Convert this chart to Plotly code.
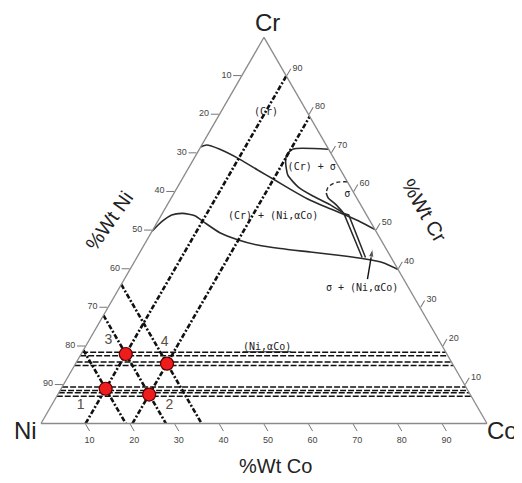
import plotly.graph_objects as go

# ---------------- data (wt% Cr, wt% Co ; Ni = balance) ----------------
upper_cr = [71.6, 72.1, 71.0, 68.4, 65.3, 63.3, 60.7, 58.2, 56.1, 54.2, 52.5, 50.2]
upper_co = [0.0, 1.1, 4.6, 10.4, 16.4, 20.4, 25.5, 30.6, 35.7, 40.7, 44.9, 49.8]

lower_cr = [49.8, 52.2, 54.0, 54.4, 53.8, 52.0, 49.4, 47.6, 46.2, 45.3, 44.4, 43.5, 42.6, 41.7, 39.9]
lower_co = [0.0, 0.9, 2.3, 4.6, 7.6, 10.7, 15.4, 20.3, 25.5, 31.0, 38.2, 45.4, 51.4, 55.7, 60.1]

cr_sigma_cr = [71.0, 71.1, 69.7, 67.7, 64.3, 61.2, 58.9, 56.6, 54.4]
cr_sigma_co = [29.0, 21.0, 20.3, 21.0, 23.2, 27.1, 31.5, 36.6, 40.7]

sigma_dash_cr = [62.6, 62.4, 61.2, 59.7]
sigma_dash_co = [37.4, 35.0, 33.8, 34.1]
sigma_solid_cr = [59.7, 58.4, 56.6, 54.4]
sigma_solid_co = [34.1, 35.2, 37.9, 40.7]

tie_cr = [43.0, 54.4, 54.0, 43.0]
tie_co = [50.5, 40.7, 42.0, 51.25]

arrow_cr = [37.4, 45.3]
arrow_co = [54.5, 51.7]

# sample compositions
sample_ids = ["1", "2", "3", "4"]
sample_cr = [9.0, 7.5, 18.0, 15.5]
sample_co = [10.0, 20.5, 10.0, 20.5]
sample_ni = [81.0, 72.0, 72.0, 64.0]

# iso-composition guide lines
guide_co = [10.0, 20.5]
guide_ni = [81.0, 72.0, 64.0]
guide_cr = [18.0, 15.5, 9.0, 7.5]

# phase labels
phase_text = ["(Cr)", "(Cr) + σ", "σ", "(Cr) + (Ni,αCo)", "σ + (Ni,αCo)"]
phase_cr = [80.5, 66.4, 59.3, 53.5, 35.0]
phase_co = [10.2, 27.5, 39.0, 25.3, 54.5]

tick_vals = [10, 20, 30, 40, 50, 60, 70, 80, 90]
tick_text = ["90", "80", "70", "60", "50", "40", "30", "20", "10"]

W, H = 522, 483
OFF = 8  # page body margin of the html page


def ni_of(cr, co):
    return [100 - a - c for a, c in zip(cr, co)]


def px(x):
    return (x - OFF) / W


def py(y):
    return 1 - (y - OFF) / H


fig = go.Figure()

solid = dict(color="#2a2a2a", width=1.6)

for cr, co in [(upper_cr, upper_co), (lower_cr, lower_co), (cr_sigma_cr, cr_sigma_co),
               (sigma_solid_cr, sigma_solid_co)]:
    fig.add_trace(go.Scatterternary(a=cr, b=ni_of(cr, co), c=co, mode="lines",
                                    line=dict(shape="spline", smoothing=0.6, **solid),
                                    hoverinfo="skip", showlegend=False))
fig.add_trace(go.Scatterternary(a=tie_cr, b=ni_of(tie_cr, tie_co), c=tie_co, mode="lines",
                                line=dict(color="#2a2a2a", width=1.5),
                                hoverinfo="skip", showlegend=False))

fig.add_trace(go.Scatterternary(a=sigma_dash_cr, b=ni_of(sigma_dash_cr, sigma_dash_co), c=sigma_dash_co,
                                mode="lines", line=dict(color="#2a2a2a", width=1.4, dash="4px,3px", shape="spline"),
                                hoverinfo="skip", showlegend=False))

# arrow
fig.add_trace(go.Scatterternary(a=arrow_cr, b=ni_of(arrow_cr, arrow_co), c=arrow_co,
                                mode="lines+markers", line=dict(color="#111", width=1.4),
                                marker=dict(symbol=["circle", "arrow"], size=[0, 9], angleref="previous",
                                            color="#111"),
                                hoverinfo="skip", showlegend=False))

heavy = dict(color="#111", width=2.6, dash="5px,2px,2px,2px")

# constant Co lines (bottom edge -> right edge)
for v in guide_co:
    cr = [0, 100 - v]
    co = [v, v]
    fig.add_trace(go.Scatterternary(a=cr, b=ni_of(cr, co), c=co, mode="lines", line=heavy,
                                    hoverinfo="skip", showlegend=False))

# constant Ni lines (left edge -> bottom edge)
for v in guide_ni:
    cr = [100 - v, 0]
    co = [0, 100 - v]
    fig.add_trace(go.Scatterternary(a=cr, b=[v, v], c=co, mode="lines", line=heavy,
                                    hoverinfo="skip", showlegend=False))

# constant Cr lines (left edge -> right edge), drawn double
for v in guide_cr:
    for d in (-0.45, 0.45):
        cr = [v + d, v + d]
        co = [0, 100 - v - d]
        fig.add_trace(go.Scatterternary(a=cr, b=ni_of(cr, co), c=co, mode="lines",
                                        line=dict(color="#111", width=1.5, dash="6px,2px"),
                                        hoverinfo="skip", showlegend=False))

# samples
fig.add_trace(go.Scatterternary(a=sample_cr, b=sample_ni, c=sample_co, mode="markers",
                                marker=dict(size=13, color="#ee1c1c", line=dict(color="#5a0000", width=1.2)),
                                hoverinfo="skip", showlegend=False))

# sample numbers
num_cr = [4.75, 4.75, 21.4, 21.0]
num_co = [6.5, 26.4, 4.4, 17.2]
fig.add_trace(go.Scatterternary(a=num_cr, b=ni_of(num_cr, num_co), c=num_co, mode="text",
                                text=sample_ids,
                                textfont=dict(family="Liberation Sans", size=14, color="#5a4e44"),
                                hoverinfo="skip", showlegend=False))

# phase labels
fig.add_trace(go.Scatterternary(a=phase_cr, b=ni_of(phase_cr, phase_co), c=phase_co, mode="text",
                                text=phase_text,
                                textfont=dict(family="DejaVu Sans Mono", size=10, color="#222"),
                                hoverinfo="skip", showlegend=False))
fig.add_trace(go.Scatterternary(a=[19.6], b=[100 - 19.6 - 40.9], c=[40.9], mode="text",
                                text=["(Ni,αCo)"],
                                textfont=dict(family="DejaVu Sans Mono", size=10, color="#222", lineposition="under"),
                                hoverinfo="skip", showlegend=False))

axis_common = dict(
    tickvals=tick_vals, ticktext=tick_text, ticks="outside", ticklen=8, tickcolor="#777",
    tickfont=dict(family="Liberation Sans", size=9, color="#444"),
    showgrid=False, showline=True, linecolor="#8a8a8a", linewidth=1.3, title=dict(text=""), min=0,
)

ann_common = dict(xref="paper", yref="paper", showarrow=False, xanchor="center", yanchor="middle")

fig.update_layout(
    width=W, height=H,
    margin=dict(l=0, r=0, t=0, b=0),
    paper_bgcolor="white",
    ternary=dict(
        sum=100,
        bgcolor="white",
        domain=dict(x=[px(41), px(487)], y=[py(423.5), py(37.3)]),
        aaxis=axis_common, baxis=axis_common, caxis=axis_common,
    ),
    font=dict(family="Liberation Sans"),
    annotations=[
        dict(text="Cr", x=px(267), y=py(22), font=dict(size=24, color="#222"), **ann_common),
        dict(text="Ni", x=px(25), y=py(430), font=dict(size=24, color="#222"), **ann_common),
        dict(text="Co", x=px(502), y=py(430), font=dict(size=24, color="#222"), **ann_common),
        dict(text="%Wt Co", x=px(275), y=py(466), font=dict(size=20, color="#222"), **ann_common),
        dict(text="%Wt Ni", x=px(109), y=py(221), textangle=-55, font=dict(size=20, color="#222"), **ann_common),
        dict(text="%Wt Cr", x=px(424), y=py(210), textangle=60, font=dict(size=20, color="#222"), **ann_common),
    ],
)

fig.write_html("out.html")
